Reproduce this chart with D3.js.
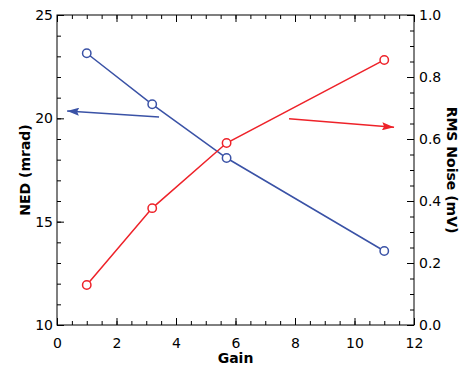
<!DOCTYPE html>
<html><head><meta charset="utf-8">
<script src="https://cdn.jsdelivr.net/npm/d3@7"></script>
<style>body{margin:0;background:#fff}svg{display:block}text{font-family:"DejaVu Sans",sans-serif}</style>
</head><body><svg id="c" width="464" height="367"></svg>
<script>
const gain = [1, 3.2, 5.7, 11];
const ned = [23.15, 20.68, 18.08, 13.58];
const rmsNoise = [0.129, 0.377, 0.587, 0.855];
const xTicks = [0, 2, 4, 6, 8, 10, 12];
const leftTicks = [10, 15, 20, 25];
const rightTicks = [0.0, 0.2, 0.4, 0.6, 0.8, 1.0];
// arrows: [x0,y0,x1,y1] in data units (tail -> head)
const nedArrow = [3.43, 20.07, 0.34, 20.36];
const rmsArrow = [7.8, 0.665, 11.33, 0.638];

const blue = "#3a52a6", red = "#ee2229";
const svg = d3.select("#c");
const L = 57, R = 414, T = 15, B = 325;
const x = d3.scaleLinear().domain([0, 12]).range([L, R]);
const yL = d3.scaleLinear().domain([10, 25]).range([B, T]);
const yR = d3.scaleLinear().domain([0, 1]).range([B, T]);

const defs = svg.append("defs");
function marker(id, col) {
  defs.append("marker").attr("id", id).attr("viewBox", "0 0 12 8").attr("refX", 12).attr("refY", 4)
    .attr("markerWidth", 12).attr("markerHeight", 8).attr("markerUnits", "userSpaceOnUse").attr("orient", "auto")
    .append("path").attr("d", "M0,0L12,4L0,8L2,4Z").attr("fill", col);
}
marker("mb", blue); marker("mr", red);

function ax(gen, tr, ticks, fmt, minor) {
  const g = svg.append("g").attr("transform", tr);
  g.call(gen.tickValues(minor).tickSize(4).tickFormat(""));
  const g2 = svg.append("g").attr("transform", tr);
  g2.call(gen.tickValues(ticks).tickSize(7).tickFormat(fmt));
  [g, g2].forEach(s => { s.select(".domain").remove(); s.selectAll("line").attr("stroke", "#000").attr("stroke-width", 1); });
  g2.selectAll("text").attr("font-size", 14).attr("fill", "#000");
  return g2;
}
const xMinor = d3.range(0, 12.01, 0.5);
const lMinor = d3.range(10, 25.01, 1);
const rMinor = d3.range(0, 1.001, 0.05);
const bx = ax(d3.axisTop(x), `translate(0,${B})`, xTicks, d3.format("d"), xMinor);
bx.selectAll("text").attr("y", 0).attr("dy", "1.15em").attr("transform", "translate(0,7)");
ax(d3.axisBottom(x), `translate(0,${T})`, xTicks, () => "", xMinor);
const ly = ax(d3.axisRight(yL), `translate(${L},0)`, leftTicks, d3.format("d"), lMinor);
ly.selectAll("text").attr("x", -4).attr("text-anchor", "end");
const ry = ax(d3.axisLeft(yR), `translate(${R},0)`, rightTicks, d3.format(".1f"), rMinor);
ry.selectAll("text").attr("x", 5).attr("text-anchor", "start");

svg.append("rect").attr("x", L).attr("y", T).attr("width", R - L).attr("height", B - T)
  .attr("fill", "none").attr("stroke", "#000").attr("stroke-width", 1);

function series(vals, ys, col) {
  const pts = gain.map((g, i) => [x(g), ys(vals[i])]);
  svg.append("path").attr("d", d3.line()(pts)).attr("fill", "none").attr("stroke", col).attr("stroke-width", 1.5);
  svg.selectAll(null).data(pts).enter().append("circle").attr("cx", d => d[0]).attr("cy", d => d[1]).attr("r", 4.2)
    .attr("fill", "#fff").attr("stroke", col).attr("stroke-width", 1.5);
}
series(ned, yL, blue);
series(rmsNoise, yR, red);

svg.append("line").attr("x1", x(nedArrow[0])).attr("y1", yL(nedArrow[1])).attr("x2", x(nedArrow[2])).attr("y2", yL(nedArrow[3]))
  .attr("stroke", blue).attr("stroke-width", 1.5).attr("marker-end", "url(#mb)");
svg.append("line").attr("x1", x(rmsArrow[0])).attr("y1", yR(rmsArrow[1])).attr("x2", x(rmsArrow[2])).attr("y2", yR(rmsArrow[3]))
  .attr("stroke", red).attr("stroke-width", 1.5).attr("marker-end", "url(#mr)");

svg.append("text").attr("x", (L + R) / 2).attr("y", 363).attr("text-anchor", "middle").attr("font-size", 14).attr("font-weight", "bold").text("Gain");
svg.append("text").attr("transform", `translate(30,${(T + B) / 2}) rotate(-90)`).attr("text-anchor", "middle").attr("font-size", 14).attr("font-weight", "bold").text("NED (mrad)");
svg.append("text").attr("transform", `translate(447,${(T + B) / 2}) rotate(90)`).attr("text-anchor", "middle").attr("font-size", 14).attr("font-weight", "bold").text("RMS Noise (mV)");
</script></body></html>
